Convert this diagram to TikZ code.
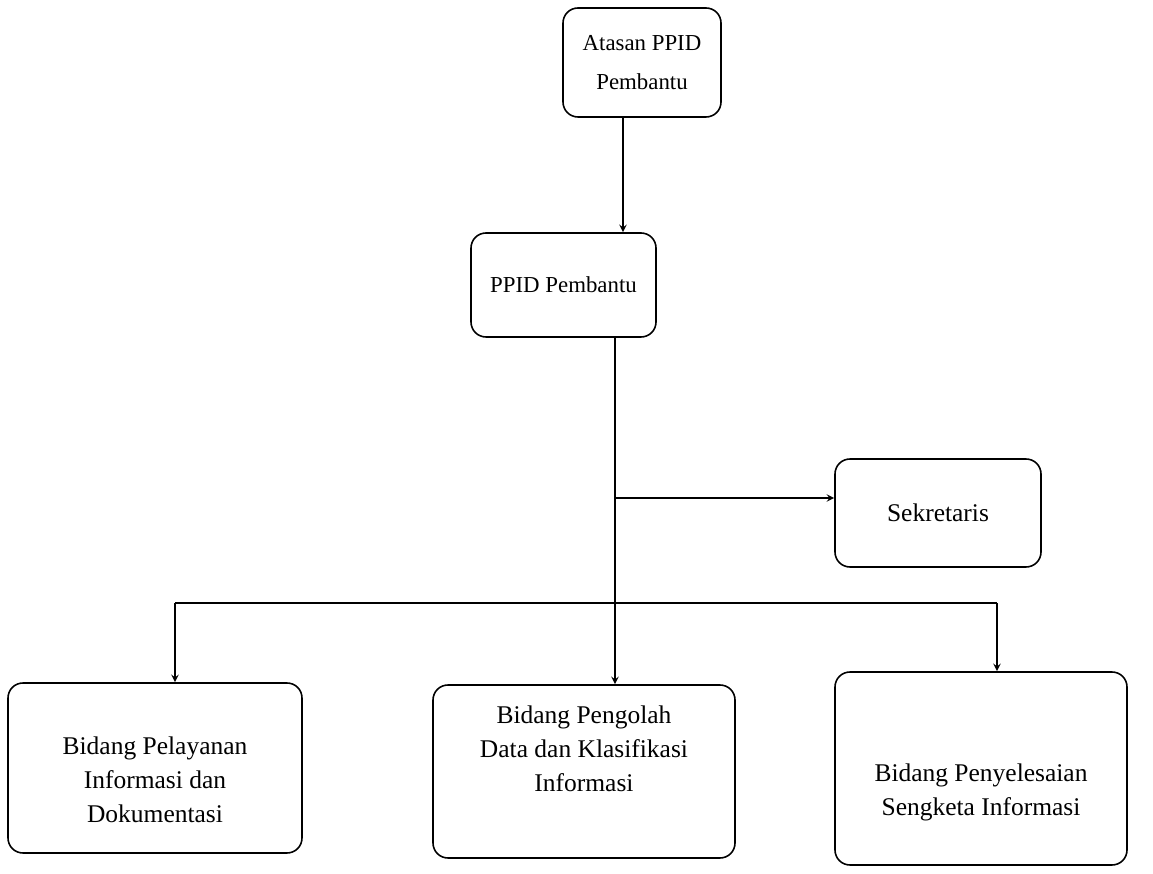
\documentclass[tikz,border=0pt]{standalone}
\usepackage{fontspec}
\setmainfont{Liberation Serif}
\usetikzlibrary{shapes, arrows, positioning, calc}

\begin{document}
\begin{tikzpicture}[>=stealth, every node/.style={align=center, font=\fontsize{13}{22}\selectfont},
		box/.style={draw, rounded corners=0.3cm, line width=0.9pt},
		bidang/.style={font=\fontsize{14.5}{19.5}\selectfont},
		line/.style={line width=0.9pt}]
	\useasboundingbox (0,0) rectangle (23.06,17.46);
	\node[box, minimum width=3.16cm, minimum height=2.18cm] (atasan) at (12.84,16.21) {Atasan PPID\\Pembantu};
	\node[box, minimum width=3.7cm, minimum height=2.08cm] (ppid) at (11.27,11.76) {PPID Pembantu};
	\node[box, font=\fontsize{14.5}{19.5}\selectfont, minimum width=4.12cm, minimum height=2.16cm] (sekretaris) at (18.76,7.2) {Sekretaris};
	\node[box, minimum width=5.88cm, minimum height=3.4cm,
		label={[bidang, yshift=-0.24cm]center:{Bidang Pelayanan\\Informasi dan\\Dokumentasi}}] (pelayanan) at (3.1,2.1) {};
	\node[box, minimum width=6.04cm, minimum height=3.46cm,
		label={[bidang, yshift=0.45cm]center:{Bidang Pengolah\\Data dan Klasifikasi\\Informasi}}] (pengolah) at (11.68,2.03) {};
	\node[box, minimum width=5.84cm, minimum height=3.86cm,
		label={[bidang, yshift=-0.48cm]center:{Bidang Penyelesaian\\Sengketa Informasi}}] (penyelesaian) at (19.62,2.09) {};
	\coordinate (drop) at (12.46,0);
	\coordinate (tee) at (12.3,7.5);
	\coordinate (bus) at (12.3,5.4);
	\coordinate (busL) at (3.5,5.4);
	\coordinate (busR) at (19.94,5.4);
	\draw[line, ->] (atasan.south -| drop) -- (ppid.north -| drop);
	\draw[line] (ppid.south -| bus) -- (bus);
	\draw[line, ->] (tee) -- (tee -| sekretaris.west);
	\draw[line] (busL) -- (busR);
	\foreach \from/\to in {busL/pelayanan, bus/pengolah, busR/penyelesaian}
		\draw[line, ->] (\from) -- (\from |- \to.north);
\end{tikzpicture}
\end{document}
